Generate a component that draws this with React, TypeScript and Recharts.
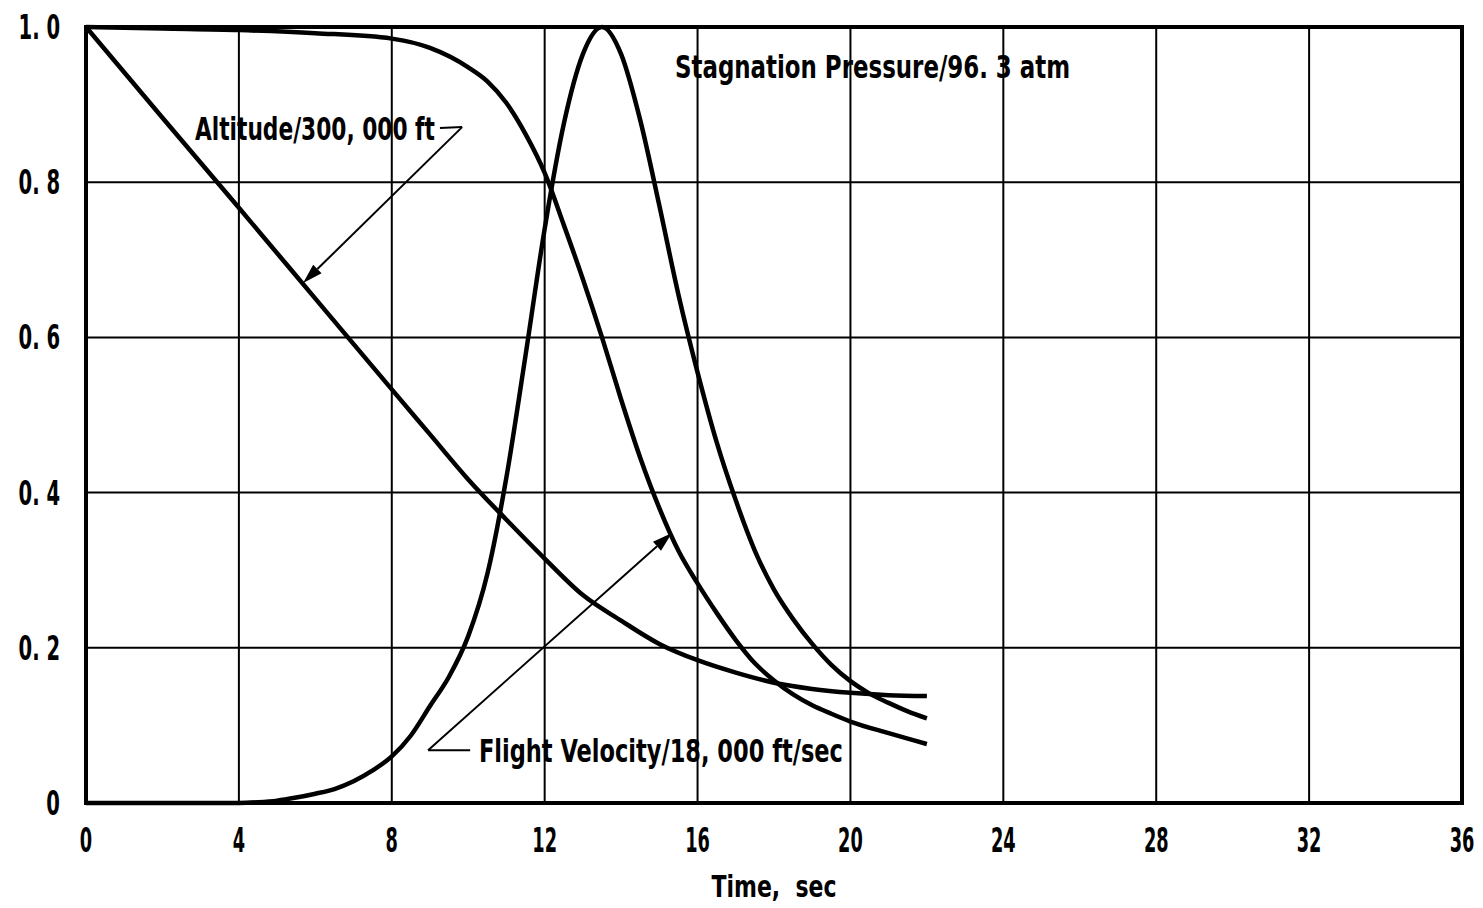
import React from 'react';
import {
  LineChart,
  Line,
  XAxis,
  YAxis,
  CartesianGrid,
  ReferenceLine,
  ReferenceArea,
  ReferenceDot,
} from 'recharts';

// ---- axis ticks ----
const xTicks = [0, 4, 8, 12, 16, 20, 24, 28, 32, 36];
const yTicks = [0, 0.2, 0.4, 0.6, 0.8, 1.0];
const yTickLabels = ['0', '0. 2', '0. 4', '0. 6', '0. 8', '1. 0'];

// ---- Altitude / 300,000 ft ----
const altitudeTime = [0, 2, 4, 6, 8, 9, 10, 11, 12, 13, 14, 15, 16, 17, 18, 19, 20, 21, 22];
const altitudeValue = [1.0, 0.883, 0.767, 0.65, 0.533, 0.475, 0.417, 0.365, 0.315, 0.268, 0.235, 0.205, 0.184, 0.168, 0.155, 0.147, 0.142, 0.139, 0.138];

// ---- Flight velocity / 18,000 ft/sec ----
const velocityTime = [0, 2, 4, 6, 8, 9, 10, 10.5, 11, 11.5, 12, 12.5, 13, 13.5, 14, 14.5, 15, 15.5, 16, 16.5, 17, 17.5, 18, 18.5, 19, 19.5, 20, 21, 22];
const velocityValue = [1.0, 0.998, 0.996, 0.992, 0.985, 0.973, 0.948, 0.93, 0.902, 0.862, 0.812, 0.745, 0.675, 0.6, 0.52, 0.445, 0.38, 0.325, 0.283, 0.245, 0.21, 0.18, 0.158, 0.14, 0.126, 0.115, 0.105, 0.09, 0.076];

// ---- Stagnation pressure / 96.3 atm ----
const pressureTime = [0, 4, 4.5, 5, 5.5, 6, 6.5, 7, 7.5, 8, 8.5, 9, 9.5, 10, 10.5, 11, 11.5, 12, 12.5, 13, 13.5, 14, 14.5, 15, 15.5, 16, 16.5, 17, 17.5, 18, 18.5, 19, 19.5, 20, 20.5, 21, 21.5, 22];
const pressureValue = [0, 0, 0.001, 0.003, 0.007, 0.012, 0.018, 0.028, 0.042, 0.06, 0.087, 0.125, 0.163, 0.215, 0.295, 0.42, 0.577, 0.74, 0.875, 0.965, 1.0, 0.965, 0.88, 0.77, 0.655, 0.555, 0.465, 0.39, 0.325, 0.275, 0.237, 0.205, 0.178, 0.157, 0.141, 0.129, 0.118, 0.109];

// ---- annotations (data coordinates) ----
const altitudeLabel = { t: 2.85, v: 0.854, text: 'Altitude/300, 000 ft', width: 240 };
const pressureLabel = { t: 15.41, v: 0.934, text: 'Stagnation Pressure/96. 3 atm', width: 395 };
const velocityLabel = { t: 10.28, v: 0.053, text: 'Flight Velocity/18, 000 ft/sec', width: 364 };

const altitudeHook = [{ x: 9.26, y: 0.87 }, { x: 9.84, y: 0.871 }];
const altitudeArrow = [{ x: 9.84, y: 0.871 }, { x: 5.68, y: 0.67 }];
const velocityHook = [{ x: 10.05, y: 0.068 }, { x: 8.95, y: 0.068 }];
const velocityArrow = [{ x: 8.95, y: 0.068 }, { x: 15.33, y: 0.348 }];

const FONT = "'Liberation Sans Narrow', 'DejaVu Sans Condensed', 'Arial Narrow', 'DejaVu Sans', sans-serif";
const X_TICK_SCALE = 0.58;
const Y_TICK_SCALE = 0.64;

const toRows = (ts: number[], vs: number[]) => ts.map((t, i) => ({ t, v: vs[i] }));

const arrowShape = (props: any) => {
  const { x1, y1, x2, y2 } = props;
  const ang = Math.atan2(y2 - y1, x2 - x1);
  const L = 20;
  const W = 6;
  const c = Math.cos(ang);
  const s = Math.sin(ang);
  const bx = x2 - L * c;
  const by = y2 - L * s;
  const pts = `${x2},${y2} ${bx + W * s},${by - W * c} ${bx - W * s},${by + W * c}`;
  return (
    <g>
      <line x1={x1} y1={y1} x2={bx} y2={by} stroke="#000" strokeWidth={2} />
      <polygon points={pts} fill="#000" />
    </g>
  );
};

const plainLine = (props: any) => {
  const { x1, y1, x2, y2 } = props;
  return <line x1={x1} y1={y1} x2={x2} y2={y2} stroke="#000" strokeWidth={2} />;
};

const textShape = (text: string, width: number) => (props: any) => (
  <text
    x={props.cx}
    y={props.cy}
    fontFamily={FONT}
    fontWeight="bold"
    fontSize={32}
    fill="#000"
    textLength={width}
    lengthAdjust="spacingAndGlyphs"
  >
    {text}
  </text>
);

const XTick = (props: any) => {
  const s = String(props.payload.value);
  return (
    <g transform={`translate(${props.x},${props.y + 25}) scale(${X_TICK_SCALE},1)`}>
      <text x={0} y={0} textAnchor="middle" fontFamily={FONT} fontWeight="bold" fontSize={34} fill="#000">
        {s}
      </text>
    </g>
  );
};

const YTick = (props: any) => {
  const idx = yTicks.indexOf(props.payload.value);
  const s = yTickLabels[idx] ?? String(props.payload.value);
  return (
    <g transform={`translate(${props.x},${props.y + 12}) scale(${Y_TICK_SCALE},1)`}>
      <text
        x={0}
        y={0}
        textAnchor="end"
        fontFamily={FONT}
        fontWeight="bold"
        fontSize={34}
        fill="#000"
        xmlSpace="preserve"
        style={{ whiteSpace: 'pre' }}
      >
        {s}
      </text>
    </g>
  );
};

const XLabel = (props: any) => {
  const vb = props.viewBox || {};
  const cx = vb.x + vb.width / 2;
  const y = vb.y + vb.height - 11;
  return (
    <text
      x={cx}
      y={y}
      textAnchor="middle"
      fontFamily={FONT}
      fontWeight="bold"
      fontSize={31}
      fill="#000"
      textLength={125}
      lengthAdjust="spacingAndGlyphs"
      style={{ whiteSpace: 'pre' }}
    >
      {'Time,  sec'}
    </text>
  );
};

export default function App() {
  return (
    <div style={{ position: 'absolute', left: 0, top: 0, background: '#fff' }}>
      <LineChart
        width={1483}
        height={908}
        margin={{ top: 27, right: 21, left: 0, bottom: 0 }}
      >
        <CartesianGrid stroke="#000" strokeWidth={2} strokeOpacity={1} />
        <XAxis
          dataKey="t"
          type="number"
          domain={[0, 36]}
          ticks={xTicks}
          allowDataOverflow
          axisLine={false}
          tickLine={false}
          tickSize={0}
          tickMargin={24}
          height={105}
          tick={<XTick />}
          label={{ value: 'Time, sec', position: 'insideBottom', content: <XLabel /> }}
        />
        <YAxis
          type="number"
          domain={[0, 1]}
          ticks={yTicks}
          width={86}
          axisLine={false}
          tickLine={false}
          tickSize={0}
          tickMargin={26}
          tick={<YTick />}
        />
        <ReferenceArea
          x1={0}
          x2={36}
          y1={0}
          y2={1}
          fill="none"
          fillOpacity={0}
          stroke="#000"
          strokeWidth={4}
          strokeOpacity={1}
        />
        <Line
          data={toRows(altitudeTime, altitudeValue)}
          dataKey="v"
          type="monotone"
          stroke="#000"
          strokeWidth={4.5}
          dot={false}
          activeDot={false}
          isAnimationActive={false}
        />
        <Line
          data={toRows(velocityTime, velocityValue)}
          dataKey="v"
          type="monotone"
          stroke="#000"
          strokeWidth={4.5}
          dot={false}
          activeDot={false}
          isAnimationActive={false}
        />
        <Line
          data={toRows(pressureTime, pressureValue)}
          dataKey="v"
          type="monotone"
          stroke="#000"
          strokeWidth={4.5}
          dot={false}
          activeDot={false}
          isAnimationActive={false}
        />
        <ReferenceLine segment={altitudeHook} shape={plainLine} />
        <ReferenceLine segment={altitudeArrow} shape={arrowShape} />
        <ReferenceLine segment={velocityHook} shape={plainLine} />
        <ReferenceLine segment={velocityArrow} shape={arrowShape} />
        <ReferenceDot x={altitudeLabel.t} y={altitudeLabel.v} r={0} shape={textShape(altitudeLabel.text, altitudeLabel.width)} />
        <ReferenceDot x={pressureLabel.t} y={pressureLabel.v} r={0} shape={textShape(pressureLabel.text, pressureLabel.width)} />
        <ReferenceDot x={velocityLabel.t} y={velocityLabel.v} r={0} shape={textShape(velocityLabel.text, velocityLabel.width)} />
      </LineChart>
    </div>
  );
}
